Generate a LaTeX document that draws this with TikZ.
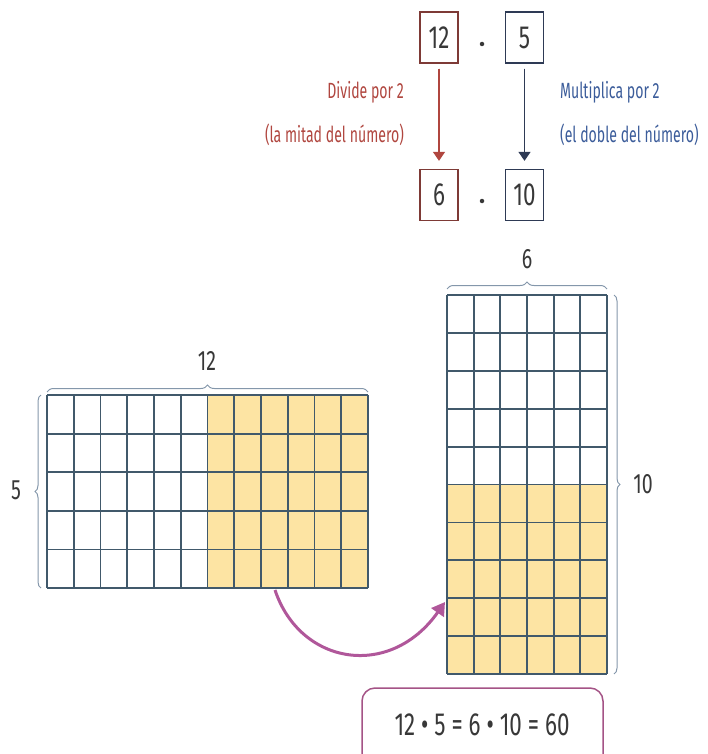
\documentclass[tikz,border=0pt]{standalone}
\usepackage{fontspec}
\setmainfont[FakeStretch=0.7]{Fira Sans}
\newfontfamily\cndfont[FakeStretch=0.64]{Fira Sans}
\usetikzlibrary{arrows.meta,decorations.pathreplacing}
\definecolor{gridc}{HTML}{41596B}
\definecolor{yel}{HTML}{FDE4A3}
\definecolor{redc}{HTML}{B0463F}
\definecolor{redbox}{HTML}{7E3A36}
\definecolor{bluec}{HTML}{3B5C9A}
\definecolor{bluebox}{HTML}{2E3A55}
\definecolor{brc}{HTML}{8497AB}
\definecolor{purp}{HTML}{B0579A}
\definecolor{purpbox}{HTML}{A45386}
\definecolor{txt}{HTML}{383838}
\begin{document}
\begin{tikzpicture}[x=1pt,y=-1pt,
  numbox/.style={draw, line width=1.3pt, minimum width=38pt, minimum height=51pt, inner sep=0pt, text=txt, font=\fontsize{32}{32}\selectfont},
  dotnode/.style={circle, fill=txt, inner sep=0pt, minimum size=4.5pt},
  lbl/.style={inner sep=0pt, font=\cndfont\fontsize{22}{22}\selectfont},
  dimlbl/.style={inner sep=0pt, text=txt, font=\fontsize{28}{28}\selectfont},
  downarrow/.style={line width=1.2pt, -{Triangle[length=9pt,width=12pt]}, shorten <=5pt, shorten >=8pt},
  gridline/.style={draw=gridc, line width=1.8pt},
  bracestyle/.style={draw=brc, line width=1pt, decorate, decoration={brace, amplitude=#1}},
  curvarrow/.style={draw=purp, line width=3pt, -{Triangle[length=13pt,width=15pt]}}
]
\useasboundingbox (0,0) rectangle (708,754);

% top equation boxes
\node[numbox, draw=redbox] (a) at (439,37.5) {12};
\node[numbox, draw=bluebox] (b) at (524.5,37.5) {5};
\node[numbox, draw=redbox] (c) at (439,195) {6};
\node[numbox, draw=bluebox] (d) at (524.5,195) {10};
\node[dotnode] (d1) at (482,44) {};
\node[dotnode] (d2) at (482,201) {};
\draw[downarrow, draw=redc, fill=redc] (a) -- (c);
\draw[downarrow, draw=bluebox, fill=bluec] (b) -- (d);
\node[lbl, text=redc, anchor=east] (l1) at (404,92) {Divide por 2};
\node[lbl, text=redc, anchor=east] (l2) at (404,135) {(la mitad del número)};
\node[lbl, text=bluec, anchor=west] (l3) at (560,92) {Multiplica por 2};
\node[lbl, text=bluec, anchor=west] (l4) at (560,135) {(el doble del número)};

% left grid 12 x 5
\fill[yel] (47+6*26.75,395) rectangle (368,588);
\foreach \i in {0,...,12} \draw[gridline] (47+\i*26.75,395) -- (47+\i*26.75,588);
\foreach \j in {0,...,5} \draw[gridline] (47,395+\j*38.6) -- (368,395+\j*38.6);
\draw[bracestyle=7pt] (47,392) -- (368,392);
\draw[bracestyle=6pt] (41,588) -- (41,395);
\node[dimlbl] (n12) at (207,361) {12};
\node[dimlbl] (n5) at (16,490) {5};

% right grid 6 x 10
\fill[yel] (447,295+5*37.9) rectangle (607,674);
\foreach \i in {0,...,6} \draw[gridline] (447+\i*26.67,295) -- (447+\i*26.67,674);
\foreach \j in {0,...,10} \draw[gridline] (447,295+\j*37.9) -- (607,295+\j*37.9);
\draw[bracestyle=7pt] (447,289) -- (607,289);
\draw[bracestyle=6pt] (614,295) -- (614,674);
\node[dimlbl] (n6) at (527,259) {6};
\node[dimlbl] (n10) at (643,484) {10};

% curved arrow
\coordinate (cs) at (275,590);
\coordinate (ce) at (445,602);
\draw[curvarrow] (cs) .. controls (300,665) and (390,680) .. (ce);

% result box
\draw[draw=purpbox, line width=1.5pt, rounded corners=13pt] (362,770) |- (482,688) -| (603,770);
\node[inner sep=0pt, text=txt, font=\fontsize{32}{32}\selectfont] (eq) at (482,725) {12 • 5 = 6 • 10 = 60};
\end{tikzpicture}
\end{document}
